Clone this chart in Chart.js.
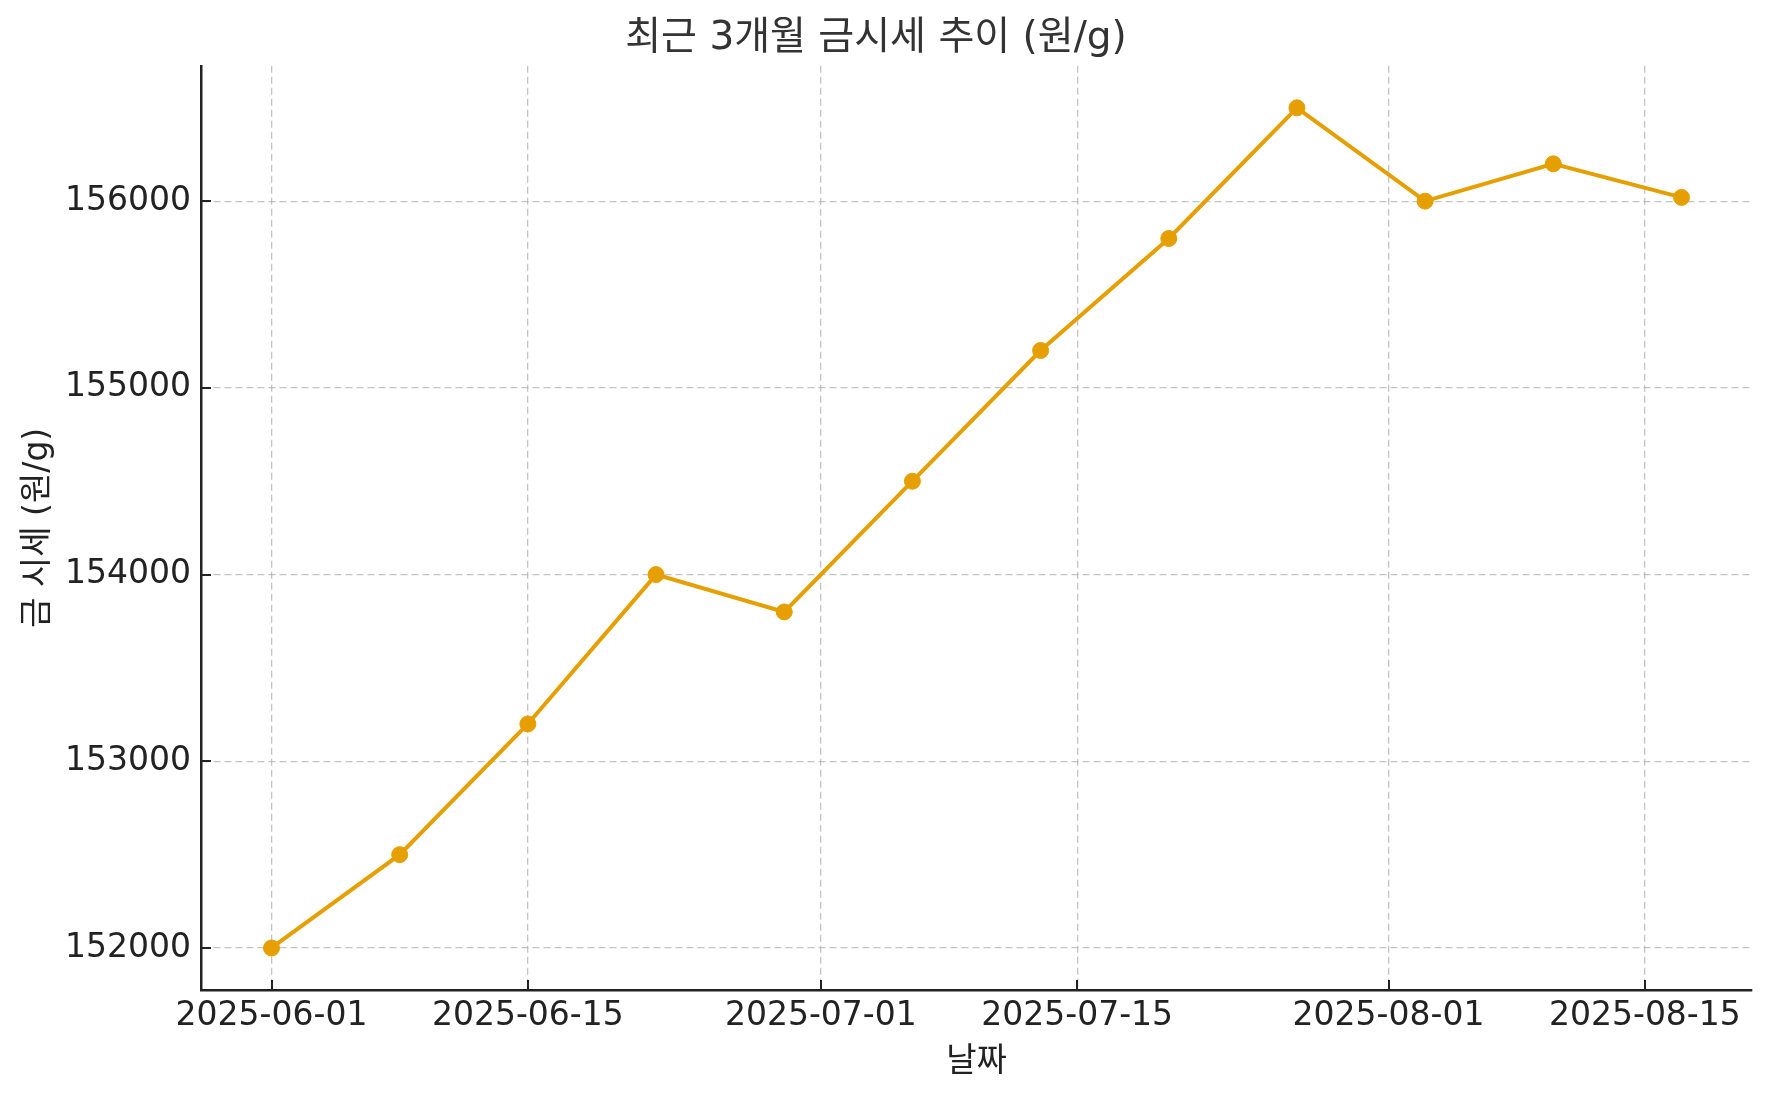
<!DOCTYPE html>
<html>
<head>
<meta charset="utf-8">
<script src="https://cdn.jsdelivr.net/npm/chart.js@4"></script>
<style>
  html, body { margin: 0; padding: 0; background: #fff; }
  #wrap { width: 1771px; height: 1097px; }
</style>
</head>
<body>
<div id="wrap"><canvas id="myChart"></canvas></div>
<script>
// data
const dates = ['2025-06-01', '2025-06-08', '2025-06-15', '2025-06-22', '2025-06-29', '2025-07-06',
               '2025-07-13', '2025-07-20', '2025-07-27', '2025-08-03', '2025-08-10', '2025-08-17'];
const prices = [152000, 152500, 153200, 154000, 153800, 154500, 155200, 155800, 156500, 156000, 156200, 156020];
const xTickLabels = ['2025-06-01', '2025-06-15', '2025-07-01', '2025-07-15', '2025-08-01', '2025-08-15'];
const yTicks = [152000, 153000, 154000, 155000, 156000];

const titleText = '최근 3개월 금시세 추이 (원/g)';
const xTitle = '날짜';
const yTitle = '금 시세 (원/g)';

const fontFamily = "'DejaVu Sans', 'Noto Sans CJK KR', sans-serif";
const lineColor = '#E69F00';
const gridColor = 'rgba(176, 176, 176, 0.75)';

var startDay = Date.parse(dates[0]);
var dayOf = function (s) {
    return (Date.parse(s) - startDay) / 86400000;
}

var points = dates.map(function (d, i) {
    return { x: dayOf(d), y: prices[i] };
});

// matplotlib style 5% margins
var xSpan = dayOf(dates[dates.length - 1]) - dayOf(dates[0]);
var ySpan = Math.max(...prices) - Math.min(...prices);
var xMin = dayOf(dates[0]) - xSpan * 0.05;
var xMax = dayOf(dates[dates.length - 1]) + xSpan * 0.05;
var yMin = Math.min(...prices) - ySpan * 0.05;
var yMax = Math.max(...prices) + ySpan * 0.05;

// inward tick marks
const innerTicks = {
    id: 'innerTicks',
    afterDraw: function (chart) {
        const c = chart.ctx;
        const area = chart.chartArea;
        const xs = chart.scales.x;
        const ys = chart.scales.y;
        c.save();
        c.strokeStyle = '#222';
        c.lineWidth = 2;
        xs.ticks.forEach(function (t) {
            var px = Math.round(xs.getPixelForValue(t.value));
            c.beginPath();
            c.moveTo(px, area.bottom);
            c.lineTo(px, area.bottom - 10);
            c.stroke();
        });
        ys.ticks.forEach(function (t) {
            var py = Math.round(ys.getPixelForValue(t.value));
            c.beginPath();
            c.moveTo(area.left, py);
            c.lineTo(area.left + 10, py);
            c.stroke();
        });
        c.restore();
    }
};

const ctx = document.getElementById('myChart');
const myChart = new Chart(ctx, {
    type: 'line',
    data: {
        datasets: [{
            data: points,
            borderColor: lineColor,
            backgroundColor: lineColor,
            borderWidth: 4,
            pointRadius: 8,
            pointBorderWidth: 1,
            pointBackgroundColor: lineColor,
            pointBorderColor: lineColor,
            tension: 0
        }]
    },
    options: {
        responsive: true,
        maintainAspectRatio: false,
        animation: false,
        layout: {
            padding: { left: 0, right: 19, top: 0, bottom: 0 }
        },
        plugins: {
            legend: { display: false },
            tooltip: { enabled: false },
            title: {
                display: true,
                text: titleText,
                color: '#333',
                font: { family: fontFamily, size: 39, weight: 'normal', lineHeight: 1.2 },
                padding: { top: 15, bottom: 4 }
            }
        },
        scales: {
            x: {
                type: 'linear',
                min: xMin,
                max: xMax,
                afterBuildTicks: function (scale) {
                    scale.ticks = xTickLabels.map(function (s) { return { value: dayOf(s) }; });
                },
                afterFit: function (scale) {
                    scale.height = 107;
                },
                grid: {
                    color: gridColor,
                    lineWidth: 1.3,
                    drawTicks: false
                },
                border: { display: true, color: '#222', width: 2.5 },
                ticks: {
                    color: '#222',
                    padding: 7,
                    maxRotation: 0,
                    autoSkip: false,
                    font: { family: fontFamily, size: 33 },
                    callback: function (value) {
                        var i = xTickLabels.findIndex(function (s) { return dayOf(s) === value; });
                        return i >= 0 ? xTickLabels[i] : '';
                    }
                },
                title: {
                    display: true,
                    text: xTitle,
                    color: '#222',
                    font: { family: fontFamily, size: 33, lineHeight: 1.2 },
                    padding: { top: 0, bottom: 15 }
                }
            },
            y: {
                type: 'linear',
                min: yMin,
                max: yMax,
                afterBuildTicks: function (scale) {
                    scale.ticks = yTicks.map(function (v) { return { value: v }; });
                },
                afterFit: function (scale) {
                    scale.width = 201;
                },
                grid: {
                    color: gridColor,
                    lineWidth: 1.3,
                    drawTicks: false
                },
                border: { display: true, color: '#222', width: 2.5 },
                ticks: {
                    color: '#222',
                    padding: 10,
                    autoSkip: false,
                    font: { family: fontFamily, size: 33 },
                    callback: function (value) { return String(value); }
                },
                title: {
                    display: true,
                    text: yTitle,
                    color: '#222',
                    font: { family: fontFamily, size: 33, lineHeight: 1.2 },
                    padding: { top: 19, bottom: 0 }
                }
            }
        }
    },
    plugins: [innerTicks]
});

// dashed grid lines, like the reference
myChart.options.scales.x.grid.borderDash = [7, 4];
myChart.options.scales.x.border.dash = [7, 4];
myChart.options.scales.y.border.dash = [7, 4];
myChart.update();
</script>
</body>
</html>
